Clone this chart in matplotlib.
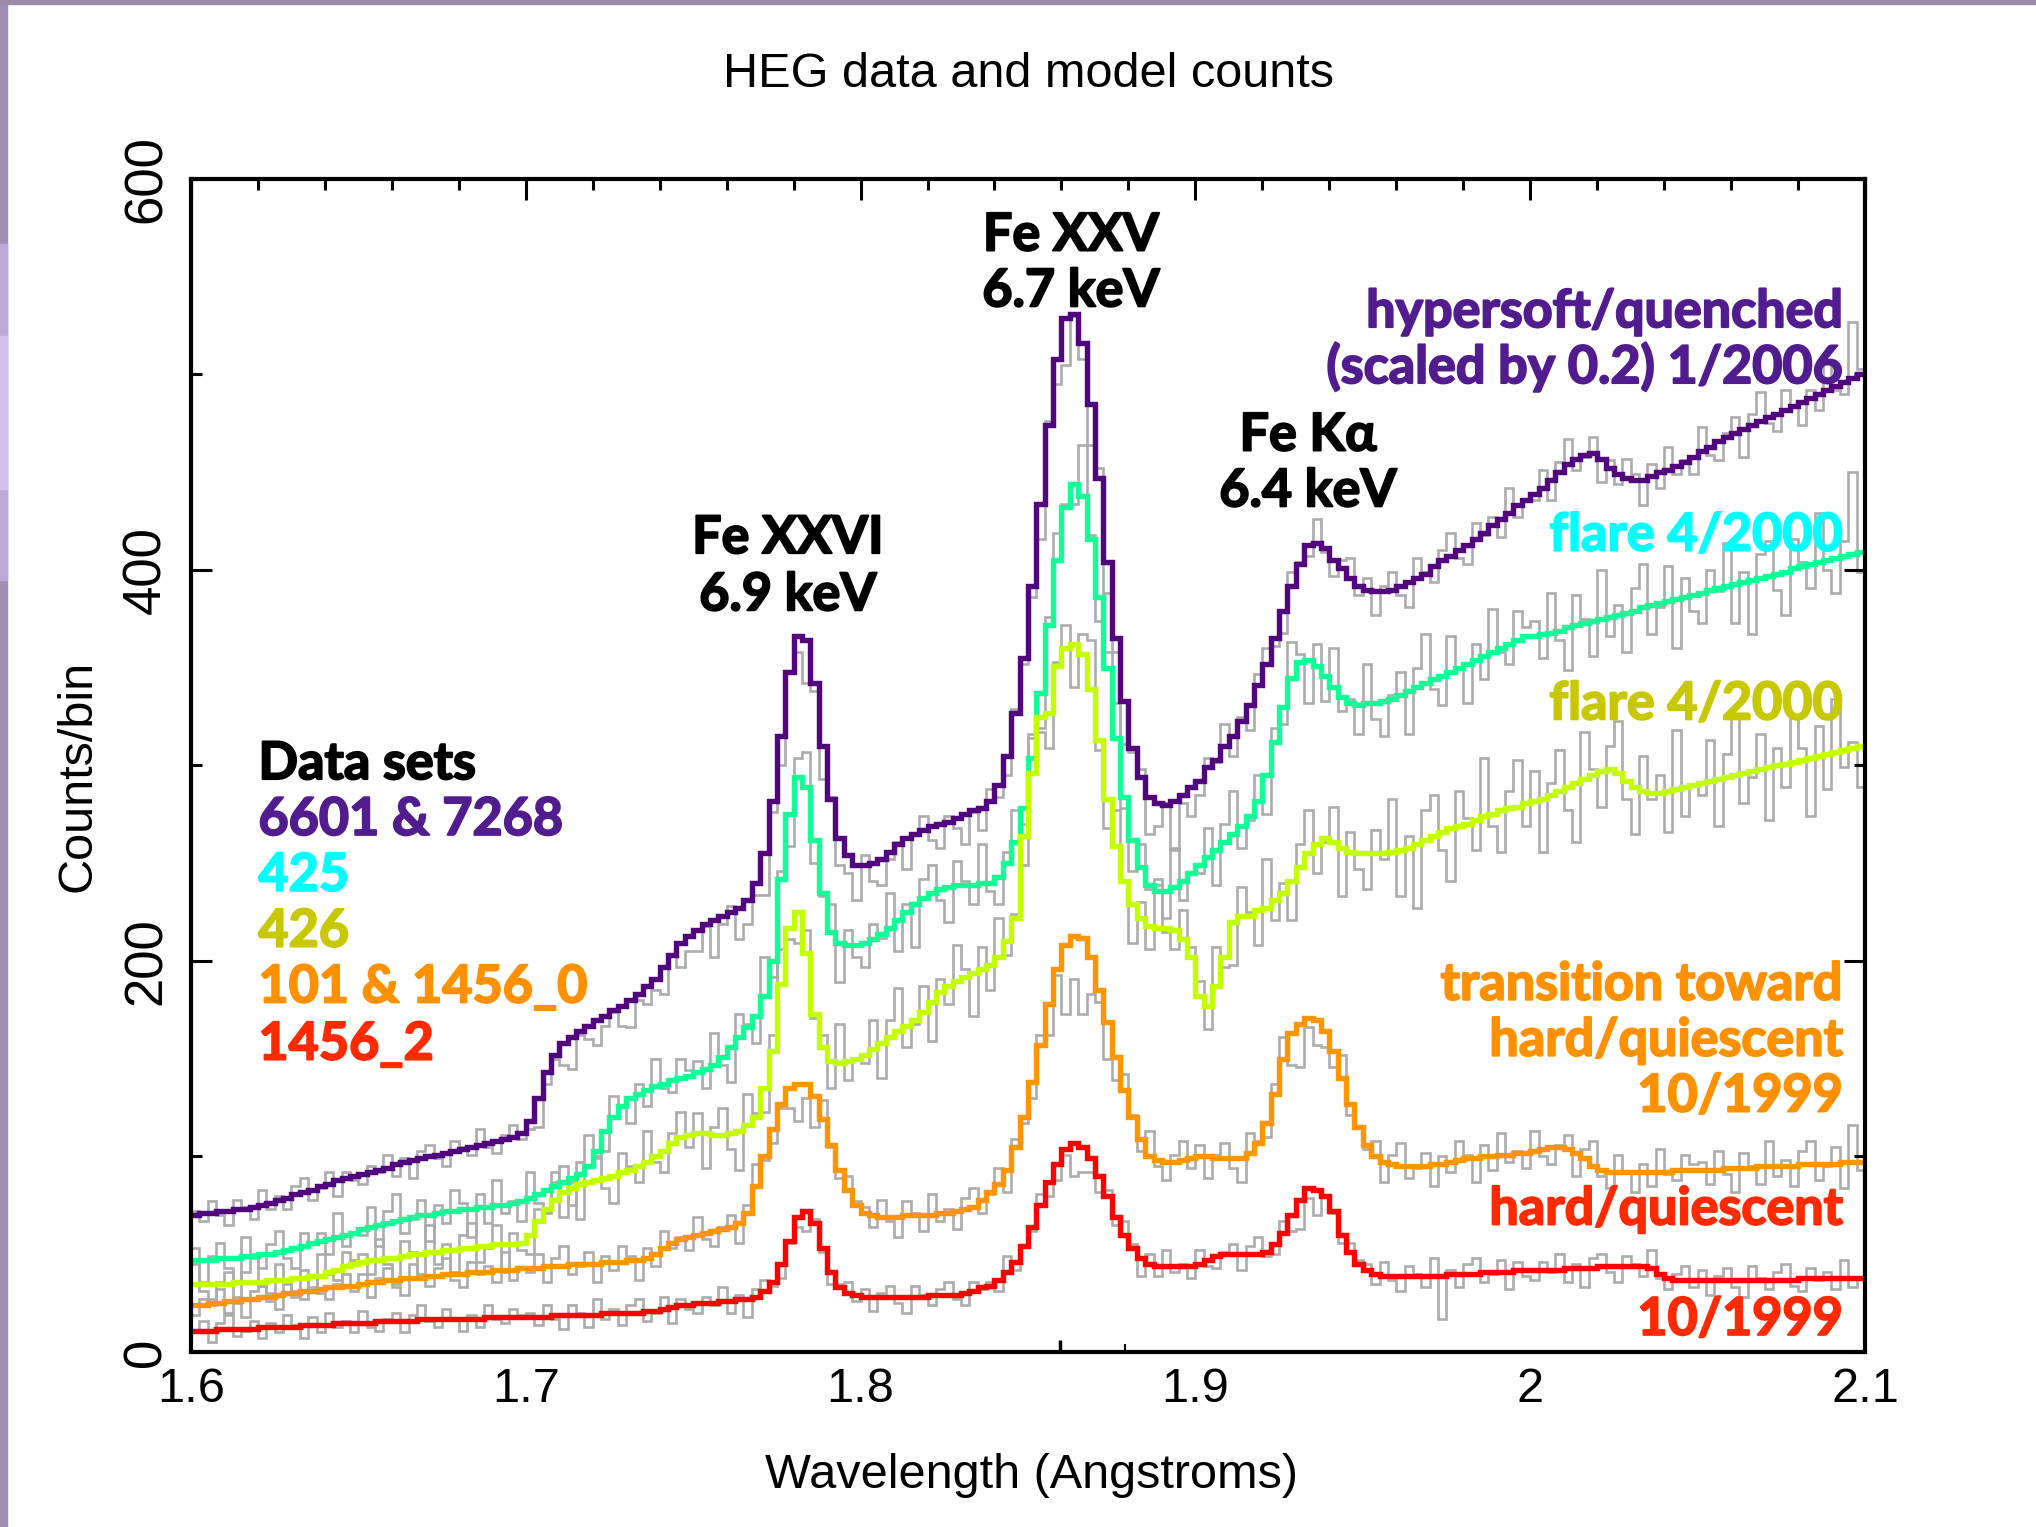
import numpy as np
import matplotlib
matplotlib.use("Agg")
import matplotlib.pyplot as plt
import matplotlib.patheffects as pe
from matplotlib.patches import Rectangle

# HEG spectrum, 0.0025 A bins from 1.6 to 2.1 A (200 bins)
lam_start = 1.6
bin_width = 0.0025
n_bins = 200

# model counts per bin (step curves)
model_hypersoft = [
    70, 71, 71, 72, 72, 73, 73, 74, 75, 76, 78, 79, 81, 82, 83, 85, 86, 88, 89, 90,
    91, 92, 93, 94, 96, 97, 98, 99, 100, 101, 102, 103, 104, 105, 106, 107, 108, 109, 110, 112,
    118, 130, 143, 152, 158, 161, 164, 167, 170, 172, 175, 177, 180, 183, 187, 191, 197, 203, 209, 213,
    216, 219, 221, 223, 225, 227, 231, 240, 255, 282, 315, 348, 366, 364, 342, 310, 283, 263, 254, 249,
    249, 250, 252, 256, 260, 263, 265, 267, 269, 270, 271, 273, 275, 277, 278, 282, 290, 305, 327, 355,
    392, 434, 474, 508, 529, 531, 516, 485, 447, 404, 365, 333, 309, 294, 284, 281, 280, 282, 285, 289,
    292, 299, 303, 310, 315, 323, 331, 341, 352, 365, 379, 392, 403, 413, 414, 411, 405, 401, 396, 392,
    390, 389, 389, 390, 392, 394, 396, 398, 402, 405, 407, 410, 413, 416, 419, 423, 426, 429, 433, 436,
    439, 442, 446, 450, 454, 457, 459, 460, 457, 452, 449, 447, 446, 446, 448, 450, 451, 453, 455, 458,
    461, 463, 466, 468, 470, 472, 474, 476, 478, 480, 482, 484, 486, 488, 490, 492, 494, 496, 498, 500,
]
model_425 = [
    47, 47, 47, 48, 48, 48, 49, 49, 50, 50, 51, 52, 53, 54, 56, 57, 58, 59, 60, 61,
    63, 64, 65, 66, 67, 68, 69, 70, 70, 71, 72, 72, 73, 73, 74, 74, 75, 75, 76, 77,
    79, 81, 83, 85, 87, 89, 91, 95, 103, 113, 120, 126, 130, 132, 134, 136, 137, 139, 140, 141,
    143, 145, 147, 151, 156, 161, 166, 172, 182, 200, 242, 275, 294, 289, 262, 235, 215, 209, 208, 208,
    209, 211, 214, 217, 221, 225, 229, 232, 235, 237, 238, 239, 239, 239, 240, 240, 243, 250, 261, 278,
    304, 337, 372, 405, 432, 444, 438, 416, 386, 350, 314, 284, 262, 248, 239, 236, 236, 238, 241, 245,
    249, 253, 257, 261, 265, 269, 274, 282, 295, 312, 330, 345, 353, 354, 351, 346, 340, 335, 332, 331,
    332, 332, 333, 334, 336, 338, 340, 342, 344, 346, 348, 350, 352, 354, 356, 358, 360, 362, 364, 366,
    366, 367, 368, 369, 371, 372, 373, 374, 375, 376, 377, 378, 379, 381, 382, 383, 384, 385, 386, 387,
    388, 390, 391, 392, 393, 394, 395, 396, 397, 398, 399, 401, 402, 403, 404, 405, 406, 407, 408, 409,
]
model_426 = [
    35, 35, 35, 35, 35, 36, 36, 36, 36, 37, 37, 37, 38, 38, 39, 39, 41, 42, 44, 45,
    46, 47, 47, 48, 48, 49, 50, 50, 51, 51, 52, 52, 53, 53, 54, 54, 55, 55, 55, 56,
    60, 67, 73, 78, 82, 84, 86, 87, 88, 89, 90, 92, 93, 95, 97, 100, 103, 107, 110, 111,
    112, 112, 111, 111, 112, 113, 116, 120, 135, 154, 188, 217, 225, 204, 173, 156, 149, 148, 149, 150,
    152, 155, 158, 161, 164, 167, 170, 174, 179, 184, 187, 190, 192, 194, 196, 198, 202, 210, 222, 264,
    296, 325, 327, 351, 360, 362, 357, 339, 313, 283, 259, 241, 229, 222, 218, 217, 217, 216, 211, 202,
    182, 177, 187, 202, 220, 223, 223, 226, 227, 231, 235, 241, 248, 255, 260, 263, 261, 258, 256, 255,
    255, 255, 255, 256, 257, 258, 260, 262, 264, 266, 268, 269, 270, 272, 274, 275, 277, 278, 279, 281,
    282, 283, 285, 287, 289, 291, 293, 295, 297, 298, 296, 292, 289, 287, 286, 286, 287, 288, 289, 290,
    291, 292, 293, 294, 295, 296, 297, 298, 299, 300, 301, 302, 303, 304, 305, 306, 307, 308, 309, 310,
]
model_101 = [
    24, 24, 25, 25, 26, 26, 27, 27, 28, 28, 29, 30, 30, 31, 31, 32, 33, 33, 34, 34,
    35, 36, 36, 37, 37, 38, 38, 38, 39, 39, 40, 40, 40, 41, 41, 41, 42, 42, 42, 43,
    43, 43, 44, 44, 44, 45, 45, 45, 45, 46, 46, 46, 47, 47, 48, 50, 53, 56, 58, 59,
    60, 61, 62, 63, 64, 66, 71, 85, 100, 114, 127, 135, 137, 137, 131, 119, 106, 93, 83, 75,
    71, 70, 69, 69, 69, 70, 70, 70, 70, 71, 71, 72, 73, 74, 78, 82, 86, 93, 105, 120,
    138, 157, 178, 196, 208, 213, 212, 202, 185, 169, 151, 134, 120, 109, 100, 98, 97, 97, 98, 99,
    100, 100, 99, 99, 99, 99, 102, 107, 117, 132, 150, 163, 168, 171, 170, 164, 154, 140, 127, 115,
    106, 100, 97, 96, 95, 95, 95, 95, 96, 96, 97, 98, 99, 99, 100, 100, 101, 101, 102, 102,
    103, 104, 105, 105, 104, 102, 99, 95, 93, 92, 92, 92, 92, 92, 92, 92, 92, 93, 93, 93,
    93, 93, 93, 94, 94, 94, 94, 95, 95, 95, 95, 95, 96, 96, 96, 96, 96, 97, 97, 97,
]
model_1456_2 = [
    11, 11, 11, 12, 12, 12, 12, 12, 13, 13, 13, 13, 13, 14, 14, 14, 14, 15, 15, 15,
    15, 15, 16, 16, 16, 16, 16, 17, 17, 17, 17, 17, 17, 17, 17, 18, 18, 18, 18, 18,
    18, 18, 18, 19, 19, 19, 19, 19, 19, 20, 20, 20, 20, 20, 21, 21, 22, 23, 24, 24,
    25, 25, 25, 26, 26, 27, 27, 28, 31, 36, 45, 57, 69, 72, 66, 53, 41, 33, 30, 29,
    28, 28, 28, 28, 28, 28, 28, 28, 29, 29, 29, 29, 30, 31, 33, 34, 37, 41, 46, 54,
    64, 75, 87, 96, 104, 107, 105, 99, 90, 80, 69, 60, 53, 48, 45, 44, 44, 44, 44, 44,
    45, 47, 49, 50, 50, 50, 50, 50, 51, 55, 61, 70, 78, 84, 83, 80, 72, 60, 51, 45,
    42, 40, 39, 39, 39, 39, 39, 39, 39, 39, 40, 40, 40, 40, 41, 41, 41, 41, 42, 42,
    42, 42, 42, 42, 43, 43, 43, 43, 44, 44, 44, 44, 44, 44, 43, 40, 38, 37, 37, 37,
    37, 37, 37, 37, 37, 37, 37, 37, 37, 37, 37, 37, 38, 38, 38, 38, 38, 38, 38, 38,
]

# measured counts per bin (grey histograms)
data_hypersoft = [
    72, 67, 77, 70, 65, 78, 74, 68, 83, 73, 80, 73, 85, 89, 78, 84, 92, 80, 92, 88,
    86, 95, 92, 101, 90, 99, 89, 103, 106, 99, 95, 108, 105, 101, 114, 105, 102, 111, 116, 109,
    114, 115, 137, 150, 147, 145, 162, 160, 157, 167, 174, 167, 166, 180, 178, 185, 183, 203, 197, 205,
    205, 218, 202, 219, 228, 211, 219, 234, 234, 276, 300, 348, 358, 342, 338, 293, 284, 249, 245, 231,
    254, 241, 239, 252, 261, 247, 265, 274, 262, 258, 274, 268, 260, 276, 267, 288, 284, 295, 329, 352,
    386, 416, 476, 495, 505, 530, 508, 464, 452, 388, 358, 311, 307, 298, 265, 269, 281, 257, 281, 274,
    285, 304, 302, 321, 305, 325, 318, 347, 360, 361, 368, 399, 404, 407, 426, 409, 397, 405, 406, 387,
    396, 377, 392, 399, 387, 381, 406, 399, 394, 410, 419, 406, 403, 424, 418, 427, 417, 442, 427, 436,
    436, 451, 436, 455, 467, 451, 458, 468, 445, 456, 444, 457, 449, 433, 454, 442, 463, 449, 456, 449,
    473, 459, 456, 470, 478, 458, 480, 491, 475, 471, 492, 484, 474, 492, 482, 506, 492, 490, 527, 503,
]
data_425 = [
    53, 36, 49, 56, 43, 36, 59, 50, 43, 55, 62, 48, 43, 61, 55, 61, 50, 71, 54, 61,
    60, 74, 54, 72, 81, 61, 68, 78, 57, 75, 66, 83, 76, 59, 81, 66, 88, 71, 77, 67,
    92, 76, 72, 87, 95, 75, 97, 111, 100, 103, 131, 126, 117, 137, 126, 150, 135, 133, 150, 144,
    149, 135, 163, 147, 138, 173, 168, 158, 202, 192, 246, 259, 304, 307, 250, 233, 229, 189, 216, 202,
    197, 219, 212, 235, 205, 229, 207, 242, 249, 231, 220, 251, 241, 229, 260, 236, 229, 256, 277, 270,
    314, 319, 376, 419, 434, 434, 464, 418, 374, 358, 332, 278, 246, 260, 237, 242, 222, 258, 231, 245,
    245, 268, 239, 270, 287, 258, 272, 295, 275, 319, 321, 363, 357, 332, 362, 333, 360, 328, 334, 316,
    352, 324, 315, 336, 348, 316, 350, 367, 339, 331, 366, 350, 332, 362, 344, 380, 358, 352, 379, 371,
    374, 355, 388, 364, 349, 387, 375, 356, 400, 366, 382, 358, 391, 403, 367, 381, 402, 360, 396, 379,
    373, 400, 389, 414, 373, 399, 367, 408, 415, 390, 377, 416, 404, 391, 429, 400, 388, 415, 450, 399,
]
data_426 = [
    45, 31, 27, 36, 41, 25, 41, 48, 34, 30, 45, 37, 28, 42, 33, 50, 40, 37, 51, 47,
    50, 40, 58, 45, 35, 57, 51, 40, 65, 45, 55, 41, 60, 66, 46, 53, 65, 41, 61, 52,
    50, 73, 71, 92, 69, 87, 68, 95, 99, 84, 76, 102, 95, 87, 113, 97, 92, 112, 123, 105,
    122, 94, 115, 125, 104, 93, 132, 122, 123, 162, 206, 211, 209, 216, 171, 162, 135, 168, 139, 150,
    148, 170, 140, 170, 186, 156, 168, 187, 159, 191, 178, 208, 196, 172, 207, 185, 222, 203, 224, 249,
    316, 317, 309, 353, 372, 340, 367, 364, 308, 268, 277, 241, 209, 230, 206, 239, 215, 206, 226, 207,
    190, 165, 207, 197, 198, 238, 225, 208, 252, 221, 240, 221, 260, 277, 245, 261, 279, 233, 266, 247,
    237, 267, 252, 283, 233, 264, 227, 277, 285, 257, 241, 287, 273, 257, 304, 269, 256, 287, 303, 269,
    297, 256, 291, 308, 277, 261, 317, 298, 279, 310, 323, 283, 265, 305, 283, 295, 266, 318, 274, 290,
    285, 313, 269, 306, 325, 281, 294, 316, 272, 309, 289, 326, 309, 274, 320, 288, 334, 299, 312, 289,
]
data_101 = [
    19, 27, 24, 32, 20, 28, 18, 31, 34, 26, 22, 35, 31, 27, 39, 30, 27, 35, 40, 31,
    40, 28, 38, 43, 33, 29, 45, 39, 34, 43, 48, 37, 33, 46, 40, 44, 36, 51, 37, 43,
    41, 50, 36, 48, 54, 40, 44, 51, 36, 49, 42, 54, 49, 37, 53, 44, 62, 53, 59, 52,
    69, 58, 54, 64, 70, 56, 75, 96, 98, 107, 125, 125, 118, 130, 115, 129, 105, 89, 90, 77,
    74, 64, 78, 67, 59, 77, 71, 62, 81, 67, 73, 63, 79, 84, 71, 81, 94, 82, 109, 117,
    130, 162, 162, 193, 173, 191, 173, 183, 179, 150, 139, 142, 121, 103, 113, 95, 88, 101, 108, 94,
    106, 89, 101, 107, 94, 87, 112, 108, 110, 137, 161, 147, 146, 166, 157, 156, 146, 152, 121, 115,
    104, 108, 87, 101, 107, 89, 94, 102, 85, 100, 92, 108, 101, 87, 106, 93, 112, 97, 103, 94,
    113, 100, 96, 106, 111, 90, 104, 108, 90, 84, 101, 92, 82, 96, 85, 104, 91, 88, 101, 96,
    97, 86, 103, 91, 82, 102, 95, 86, 108, 90, 98, 85, 103, 108, 88, 95, 105, 84, 116, 93,
]
data_1456_2 = [
    10, 16, 5, 15, 19, 8, 11, 16, 7, 15, 10, 19, 14, 7, 18, 10, 20, 13, 16, 10,
    21, 13, 11, 17, 20, 10, 19, 24, 16, 13, 22, 17, 11, 19, 13, 24, 17, 15, 22, 19,
    20, 14, 24, 17, 12, 24, 20, 13, 27, 17, 22, 14, 24, 27, 16, 20, 28, 15, 27, 22,
    20, 28, 24, 33, 20, 29, 18, 32, 37, 34, 38, 56, 64, 62, 68, 51, 35, 35, 36, 26,
    32, 21, 30, 34, 25, 20, 34, 29, 24, 32, 36, 27, 24, 36, 32, 36, 31, 49, 42, 54,
    62, 81, 80, 88, 101, 90, 92, 92, 82, 83, 65, 67, 55, 39, 50, 39, 52, 41, 45, 38,
    52, 44, 43, 51, 55, 42, 54, 59, 49, 50, 67, 62, 63, 79, 70, 80, 71, 56, 56, 47,
    45, 35, 46, 37, 31, 44, 40, 33, 48, 17, 42, 33, 45, 48, 36, 40, 47, 32, 46, 39,
    37, 46, 41, 50, 36, 45, 33, 48, 50, 41, 36, 49, 45, 39, 52, 38, 32, 40, 44, 33,
    42, 29, 39, 43, 33, 28, 44, 38, 32, 41, 45, 34, 31, 43, 37, 41, 32, 47, 33, 38,
]

# small marks on the bottom axis (Angstrom)
bottom_marks = [1.8595, 1.879]

x_ticks = [1.6, 1.7, 1.8, 1.9, 2.0, 2.1]
x_tick_labels = ["1.6", "1.7", "1.8", "1.9", "2", "2.1"]
y_ticks = [0, 200, 400, 600]

edges = lam_start + bin_width * np.arange(n_bins + 1)

plt.rcParams["font.family"] = ["Liberation Sans", "DejaVu Sans"]

fig = plt.figure(figsize=(20.36, 15.27), dpi=100)

# purple slide border (left and top)
fig.patches.append(Rectangle((0, 0), 7 / 2036, 1, transform=fig.transFigure,
                             color="#a28fb7", zorder=0))
fig.patches.append(Rectangle((0, 0.62), 7 / 2036, 0.22, transform=fig.transFigure,
                             color="#bda9d8", zorder=0))
fig.patches.append(Rectangle((0, 0.68), 7 / 2036, 0.10, transform=fig.transFigure,
                             color="#d2c0ee", zorder=0))
fig.patches.append(Rectangle((0, 1 - 4 / 1527), 1, 4 / 1527, transform=fig.transFigure,
                             color="#9c8cab", zorder=0))

ax = fig.add_axes([0.0938, 0.1146, 0.8222, 0.7682])

grey = "#acacac"
for d in [data_hypersoft, data_425, data_426, data_101, data_1456_2]:
    ax.stairs(d, edges, baseline=None, color=grey, lw=1.9, zorder=1)

models = [
    (model_hypersoft, "#52067e"),
    (model_425, "#12ff98"),
    (model_426, "#c4ff00"),
    (model_101, "#ff9500"),
    (model_1456_2, "#ff0000"),
]
for m, col in models:
    ax.stairs(m, edges, baseline=None, color=col, lw=3.9, zorder=3, joinstyle="miter")

ax.vlines(bottom_marks, 0, [6, 4], color="black", lw=[2.5, 1.5], zorder=4)

ax.set_xlim(1.6, 2.1)
ax.set_ylim(0, 600)
ax.set_xticks(x_ticks)
ax.set_xticklabels(x_tick_labels)
ax.set_xticks(np.arange(1.62, 2.1, 0.02), minor=True)
ax.set_yticks(y_ticks)
ax.set_yticks([100, 300, 500], minor=True)

for s in ax.spines.values():
    s.set_linewidth(3.0)
    s.set_zorder(5)

ax.tick_params(axis="x", which="both", bottom=False, top=True, direction="in",
               labelbottom=True, width=2.2, labelsize=35, pad=11)
ax.tick_params(axis="y", which="both", left=True, right=True, direction="in",
               width=2.2, labelsize=38, pad=14)
ax.tick_params(which="major", length=15)
ax.tick_params(which="minor", length=8)
for lab in ax.get_yticklabels():
    lab.set_rotation(90)
    lab.set_va("center")
    lab.set_ha("right")

fig.text(0.505, 0.951, "HEG data and model counts", ha="center", va="center", fontsize=35)
fig.text(0.5064, 0.0334, "Wavelength (Angstroms)", ha="center", va="center", fontsize=35)
fig.text(0.0383, 0.4918, "Counts/bin", ha="center", va="center", rotation=90, fontsize=35)

ann = dict(family=["Lato", "DejaVu Sans"], weight="bold", size=37.5)


def label(x, y, s, col, ha):
    t = ax.text(x, y, s, transform=ax.transAxes, ha=ha, va="baseline",
                color=col, zorder=6, **ann)
    # a thin outline in the same colour makes the glyphs heavier
    t.set_path_effects([pe.withStroke(linewidth=1.4, foreground=col)])


# line identifications
for x, y, s in [(0.5257, 0.939, "Fe XXV"), (0.5257, 0.8914, "6.7 keV"),
                (0.3566, 0.681, "Fe XXVI"), (0.3566, 0.6323, "6.9 keV"),
                (0.6673, 0.7685, "Fe K\u03b1"), (0.6673, 0.7209, "6.4 keV")]:
    label(x, y, s, "black", "center")

# state labels on the right
purple_txt = "#511c8e"
for y, s, col in [(0.8737, "hypersoft/quenched", purple_txt),
                  (0.826, "(scaled by 0.2) 1/2006", purple_txt),
                  (0.6832, "flare 4/2000", "#00ffff"),
                  (0.5393, "flare 4/2000", "#c8c800"),
                  (0.3003, "transition toward", "#ff9000"),
                  (0.2526, "hard/quiescent", "#ff9000"),
                  (0.205, "10/1999", "#ff9000"),
                  (0.1087, "hard/quiescent", "#ff2a00"),
                  (0.0146, "10/1999", "#ff2a00")]:
    label(0.9866, y, s, col, "right")

# data set list on the left
for y, s, col in [(0.4884, "Data sets", "black"),
                  (0.4408, "6601 & 7268", purple_txt),
                  (0.3932, "425", "#00ffff"),
                  (0.3456, "426", "#c8c800"),
                  (0.298, "101 & 1456_0", "#ff9000"),
                  (0.2493, "1456_2", "#ff2a00")]:
    label(0.0403, y, s, col, "left")

fig.savefig("out.png", dpi=100)
